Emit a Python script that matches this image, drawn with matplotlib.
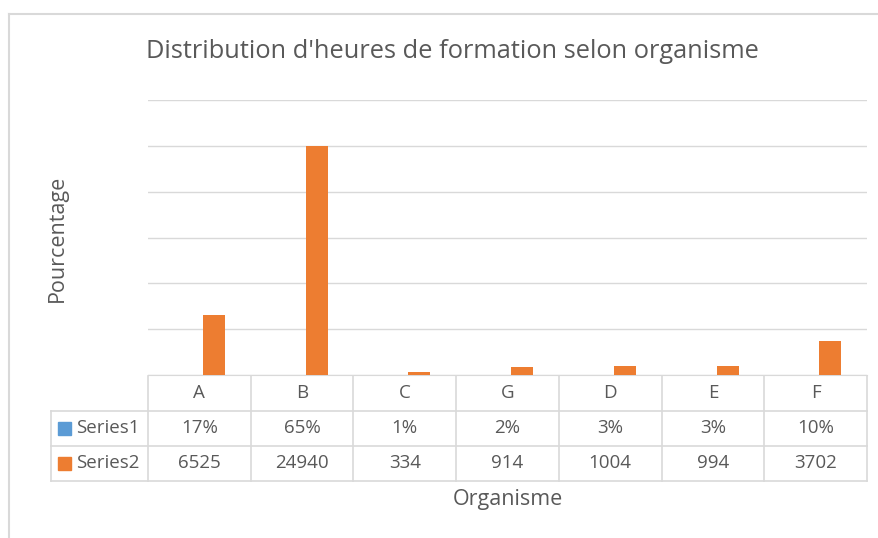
import matplotlib.pyplot as plt
import matplotlib.transforms as mtransforms
from matplotlib.lines import Line2D
from matplotlib.patches import Rectangle

categories = ['A', 'B', 'C', 'G', 'D', 'E', 'F']
series1 = [0.17, 0.65, 0.01, 0.02, 0.03, 0.03, 0.10]
series2 = [6525, 24940, 334, 914, 1004, 994, 3702]
series_names = ['Series1', 'Series2']

blue = '#5B9BD5'
orange = '#ED7D31'
grid_col = '#D9D9D9'
text_col = '#595959'

plt.rcParams['font.family'] = ['Open Sans', 'DejaVu Sans']

W, H = 879, 538
fig = plt.figure(figsize=(W / 100, H / 100), dpi=100)

def fx(px):
    return px / W

def fy(py):
    return 1 - py / H

# plot area in pixels
left, right, top, bottom = 148, 867, 100, 375
ax = fig.add_axes([fx(left), fy(bottom), fx(right - left), (bottom - top) / H])

x = range(len(categories))
bw = 0.214
ax.bar([i - 0.07 for i in x], series1, width=bw, color=blue, zorder=3)
ax.bar([i + 0.143 for i in x], series2, width=bw, color=orange, zorder=3)

ax.set_xlim(-0.5, len(categories) - 0.5)
ax.set_ylim(0, 30000)
ax.set_yticks(range(0, 30001, 5000))
ax.yaxis.grid(True, color=grid_col, linewidth=1)
ax.set_axisbelow(True)
ax.tick_params(left=False, bottom=False, labelleft=False, labelbottom=False)
for s in ['top', 'right', 'left']:
    ax.spines[s].set_visible(False)
ax.spines['bottom'].set_color(grid_col)

# data table below the plot
trans = mtransforms.blended_transform_factory(ax.transData, fig.transFigure)
row_y = [376, 410.5, 445.5, 481]
label_left = -0.5 - (left - 51) / ((right - left) / len(categories))
n = len(categories)

def hline(x0, x1, py):
    fig.add_artist(Line2D([x0, x1], [fy(py), fy(py)], transform=trans,
                          color=grid_col, linewidth=1.2, clip_on=False))

def vline(xv, py0, py1):
    fig.add_artist(Line2D([xv, xv], [fy(py0), fy(py1)], transform=trans,
                          color=grid_col, linewidth=1.2, clip_on=False))

hline(label_left, n - 0.5, row_y[1])
hline(label_left, n - 0.5, row_y[2])
hline(label_left, n - 0.5, row_y[3])
vline(label_left, row_y[1], row_y[3])
for i in range(n + 1):
    vline(i - 0.5, row_y[0], row_y[3])

fs = 13.5
for i, cat in enumerate(categories):
    fig.text(i, fy((row_y[0] + row_y[1]) / 2), cat, transform=trans,
             ha='center', va='center', fontsize=fs, color=text_col)
    fig.text(i, fy((row_y[1] + row_y[2]) / 2), f'{series1[i]:.0%}', transform=trans,
             ha='center', va='center', fontsize=fs, color=text_col)
    fig.text(i, fy((row_y[2] + row_y[3]) / 2), f'{series2[i]}', transform=trans,
             ha='center', va='center', fontsize=fs, color=text_col)

for k, (name, col) in enumerate(zip(series_names, [blue, orange])):
    yc = (row_y[k + 1] + row_y[k + 2]) / 2
    fig.add_artist(Rectangle((fx(58), fy(yc + 6.5)), fx(13), 13 / H,
                             transform=fig.transFigure, color=col))
    fig.text(fx(76), fy(yc), name, ha='left', va='center', fontsize=fs, color=text_col)

# titles
fig.text(fx(452), fy(52), "Distribution d'heures de formation selon organisme",
         ha='center', va='center', fontsize=18.3, color=text_col)
fig.text(fx(508), fy(500), 'Organisme', ha='center', va='center', fontsize=15.5, color=text_col)
fig.text(fx(57), fy(238), 'Pourcentage', ha='center', va='center', rotation=90,
         fontsize=15.5, color=text_col)

# chart frame
fig.add_artist(Line2D([fx(9), 1], [fy(14), fy(14)], color=grid_col, linewidth=1.5))
fig.add_artist(Line2D([fx(9), fx(9)], [fy(14), 0], color=grid_col, linewidth=1.5))

fig.savefig('out.png', dpi=100)
